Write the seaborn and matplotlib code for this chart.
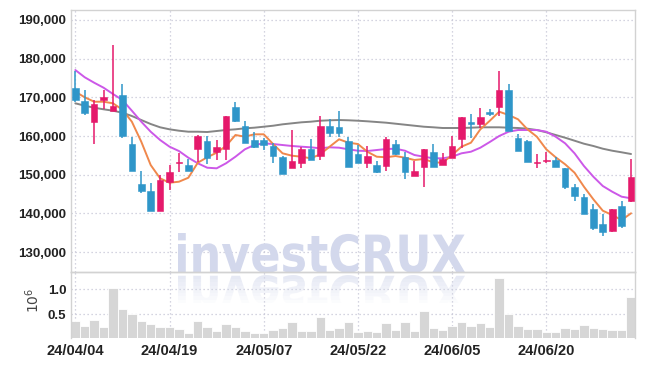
import numpy as np
import pandas as pd
import matplotlib
matplotlib.use("Agg")
import matplotlib.pyplot as plt
import seaborn as sns
from matplotlib import font_manager as fm
from matplotlib.textpath import TextPath
from matplotlib.patches import PathPatch, Rectangle
from matplotlib.font_manager import FontProperties
from matplotlib.transforms import Affine2D, IdentityTransform

# ---------------- data ----------------
tick_pos = [0, 10, 20, 30, 40, 50]
tick_labels = ["24/04/04", "24/04/19", "24/05/07", "24/05/22", "24/06/05", "24/06/20"]

opens = [172400, 169050, 163700, 169400, 166550, 170600, 157850, 147600, 145800, 140700,
         148050, 153100, 152500, 156550, 158700, 155950, 156700, 167500, 162600, 158950,
         158950, 157400, 154550, 151750, 153100, 156650, 154900, 162600, 162300, 158700,
         155350, 152950, 152450, 152350, 157850, 154500, 149750, 151900, 155800, 152500,
         154250, 159150, 163550, 163000, 166100, 167550, 171900, 159400, 158700, 153000,
         153450, 153800, 151650, 146900, 144150, 141050, 137250, 135450, 141900, 143300]
highs = [176800, 171900, 169300, 171900, 183500, 173450, 159650, 151050, 147800, 149900,
         152500, 155550, 154000, 160250, 160100, 158950, 165150, 168800, 163900, 161100,
         159550, 158100, 154900, 161550, 157100, 159150, 165150, 164300, 166450, 159800,
         157650, 157400, 153600, 159800, 158950, 155800, 153600, 156650, 157850, 155700,
         160100, 165000, 165700, 167300, 166900, 176850, 173450, 160500, 158950, 155250,
         155950, 154650, 151800, 147500, 144950, 142350, 139850, 141150, 143200, 153950]
lows = [168800, 165500, 157850, 166900, 166550, 159400, 151050, 145200, 140700, 140700,
        146050, 150600, 151050, 153200, 152750, 153800, 153800, 163500, 158250, 157000,
        156400, 153100, 150250, 151750, 151650, 153700, 153800, 159650, 159800, 151900,
        153100, 151650, 150500, 150950, 155000, 148800, 149750, 146900, 151900, 152500,
        154250, 156800, 159400, 162000, 165150, 165150, 161350, 156200, 153350, 151800,
        153000, 152050, 146250, 143200, 139750, 135700, 134250, 135100, 136300, 143000]
closes = [169300, 166000, 168200, 170100, 167750, 160100, 151050, 145850, 140700, 148650,
          150600, 153300, 151050, 160100, 154250, 157100, 165150, 163900, 158250, 157250,
          157600, 154900, 150250, 153550, 156550, 153700, 162600, 160850, 160700, 152050,
          153100, 154850, 150750, 159150, 155250, 150600, 151050, 156550, 151900, 154000,
          157400, 164850, 163000, 164850, 165800, 171900, 161350, 156200, 153350, 153200,
          153650, 152050, 146750, 144550, 139750, 136150, 135250, 141100, 136750, 149400]

ma_short = [171450, 170000, 168860, 168860, 168450, 166800, 163700, 158530, 152500, 149070,
            147930, 148190, 149220, 153100, 154500, 155690, 157420, 160260, 159820, 160440,
            160440, 157930, 155530, 154910, 154650, 154240, 155270, 157240, 159150, 158270,
            157930, 155940, 154650, 154500, 154830, 154390, 153800, 154060, 153200, 153100,
            155090, 157240, 158270, 161730, 163930, 166280, 165430, 164320, 161730, 159820,
            156560, 154500, 152690, 150520, 146900, 143640, 140700, 139590, 138290, 140030]
ma_mid = [177050, 175170, 173770, 172480, 170850, 169300, 166540, 163700, 161110, 158970,
          157240, 156120, 154390, 152950, 151810, 151650, 152950, 154650, 156560, 157670,
          158110, 157930, 157670, 157420, 157240, 157080, 156820, 157080, 156980, 156560,
          156200, 156120, 156380, 156640, 156720, 156200, 155090, 154650, 154240, 154240,
          154650, 155530, 155940, 156980, 158450, 160000, 161110, 161550, 161550, 161550,
          161110, 159820, 158110, 155530, 152250, 149480, 147080, 145610, 144320, 143900]
ma_long = [168450, 167830, 167310, 166900, 166540, 166020, 165170, 164130, 163100, 162250,
           161730, 161370, 161110, 161110, 161030, 161290, 161550, 161730, 161990, 162150,
           162400, 162660, 163020, 163280, 163540, 163700, 163950, 164060, 164130, 164060,
           163950, 163800, 163620, 163440, 163180, 162920, 162660, 162400, 162250, 162070,
           162070, 162070, 162150, 162250, 162250, 162250, 162150, 162070, 161890, 161550,
           160960, 160260, 159560, 158790, 158010, 157420, 156720, 156200, 155790, 155350]

volume_m = [0.366, 0.266, 0.386, 0.246, 1.02, 0.60, 0.506, 0.366, 0.306, 0.24,
            0.24, 0.20, 0.126, 0.36, 0.24, 0.166, 0.306, 0.24, 0.166, 0.12,
            0.12, 0.186, 0.22, 0.346, 0.166, 0.166, 0.44, 0.186, 0.22, 0.34,
            0.152, 0.166, 0.146, 0.32, 0.186, 0.34, 0.166, 0.56, 0.22, 0.186,
            0.266, 0.34, 0.266, 0.32, 0.24, 1.22, 0.506, 0.266, 0.20, 0.20,
            0.146, 0.146, 0.22, 0.206, 0.28, 0.22, 0.206, 0.186, 0.186, 0.84]

# ---------------- styling ----------------
UP = "#e5196b"
DOWN = "#2f96c9"
C_SHORT = "#f0884c"
C_MID = "#cc58e8"
C_LONG = "#858585"
GRID = "#c6c6d6"
SPINE = "#d2d2d2"
TXT = "#222222"

sns.set_theme(style="white")

# pick a narrow font if one is installed
names = {f.name for f in fm.fontManager.ttflist}
if "Liberation Sans Narrow" in names:
    FAM, YS, XS = ["Liberation Sans Narrow", "DejaVu Sans"], 11, 11.5
else:
    FAM, YS, XS = ["Liberation Sans", "DejaVu Sans"], 9.5, 10.5
plt.rcParams["font.family"] = FAM

W, H = 645, 366
fig = plt.figure(figsize=(W / 100, H / 100), dpi=100)
fig.patch.set_facecolor("white")


def rect(l, t, r, b):
    return [l / W, 1 - b / H, (r - l) / W, (b - t) / H]


ax = fig.add_axes(rect(71, 10, 635, 272))
axv = fig.add_axes(rect(71, 272, 635, 338))
for a in (ax, axv):
    a.set_facecolor("none")

n = len(opens)
idx = np.arange(n)
df = pd.DataFrame({"i": idx, "open": opens, "high": highs, "low": lows, "close": closes,
                   "ma_s": ma_short, "ma_m": ma_mid, "ma_l": ma_long, "vol": volume_m})

# moving averages (seaborn)
sns.lineplot(data=df, x="i", y="ma_l", ax=ax, color=C_LONG, lw=1.4, zorder=2)
sns.lineplot(data=df, x="i", y="ma_m", ax=ax, color=C_MID, lw=1.4, zorder=2)
sns.lineplot(data=df, x="i", y="ma_s", ax=ax, color=C_SHORT, lw=1.4, zorder=2)

# candles
o = df["open"].to_numpy(); c = df["close"].to_numpy()
up = c >= o
cols = np.where(up, UP, DOWN)
ax.vlines(idx, df["low"], df["high"], colors=cols, lw=1.1, zorder=3)
bottoms = np.minimum(o, c)
heights = np.maximum(np.abs(c - o), 250)
ax.bar(idx, heights, bottom=bottoms, width=0.7, color=cols, edgecolor=cols, lw=0.4, zorder=4)

# volume (seaborn barplot)
sns.barplot(data=df, x="i", y="vol", ax=axv, native_scale=True, color="#d6d6d6",
            saturation=1, width=1.0, edgecolor="white", linewidth=0.6, errorbar=None, zorder=2)

# axes ranges
ax.set_xlim(-0.46, 59.42)
axv.set_xlim(-0.46, 59.42)
ax.set_ylim(124860, 192560)
axv.set_ylim(0.026, 1.346)

yt = [130000, 140000, 150000, 160000, 170000, 180000, 190000]
ax.set_yticks(yt)
ax.set_yticklabels([f"{v:,}" for v in yt])
ax.set_xticks(tick_pos)
ax.tick_params(labelbottom=False)
axv.set_xticks(tick_pos)
axv.set_xticklabels(tick_labels)
axv.set_yticks([0.5, 1.0])
axv.set_yticklabels(["0.5", "1.0"])
for a in (ax, axv):
    a.set_xlabel("")
    a.set_ylabel("")
    a.tick_params(length=0, pad=3.5, labelsize=YS, colors=TXT)
    a.grid(True, linestyle=(0, (1, 2.2)), color=GRID, lw=0.9, zorder=0)
    a.set_axisbelow(True)
    for s in a.spines.values():
        s.set_color(SPINE)
        s.set_linewidth(1.0)
axv.spines["bottom"].set_visible(False)
axv.tick_params(axis="x", labelsize=XS, pad=4)
for a in (ax, axv):
    for lab in a.get_xticklabels() + a.get_yticklabels():
        lab.set_fontweight("bold")

fig.text(33 / W, 1 - 300 / H, r"$10^{6}$", rotation=90, ha="center", va="center",
         fontsize=10, color="#444444", family="DejaVu Sans")

# watermark "investCRUX" with reflection
fp = FontProperties(family="DejaVu Sans", weight="bold")
tp = TextPath((0, 0), "investCRUX", size=50, prop=fp)
ext = tp.get_extents()
x0, x1 = 178, 465
ytop, ybot = H - 233, H - 273
sx = (x1 - x0) / ext.width
sy = (ytop - ybot) / ext.height
tr = Affine2D().translate(-ext.x0, -ext.y0).scale(sx, sy).translate(x0, ybot)
wm = PathPatch(tr.transform_path(tp), transform=IdentityTransform(), facecolor="#d3d8ec",
               lw=0, zorder=1.5, clip_on=False)
ax.add_artist(wm)

tr_m = Affine2D().translate(-ext.x0, -ext.y0).scale(sx, -sy).translate(x0, ybot - 2)
mpath = tr_m.transform_path(tp)
nstrip = 8
top_px = ybot - 2
for k in range(nstrip):
    y_hi = top_px - k * 3.5
    y_lo = y_hi - 3.5
    alpha = 0.55 * (1 - k / nstrip)
    p = PathPatch(mpath, transform=IdentityTransform(), facecolor="#d3d8ec", lw=0,
                  alpha=alpha, zorder=1)
    clip = Rectangle((x0 - 5, y_lo), x1 - x0 + 10, 3.5, transform=IdentityTransform())
    axv.add_artist(p)
    p.set_clip_path(clip)

fig.savefig("out.png", dpi=100, facecolor="white")
